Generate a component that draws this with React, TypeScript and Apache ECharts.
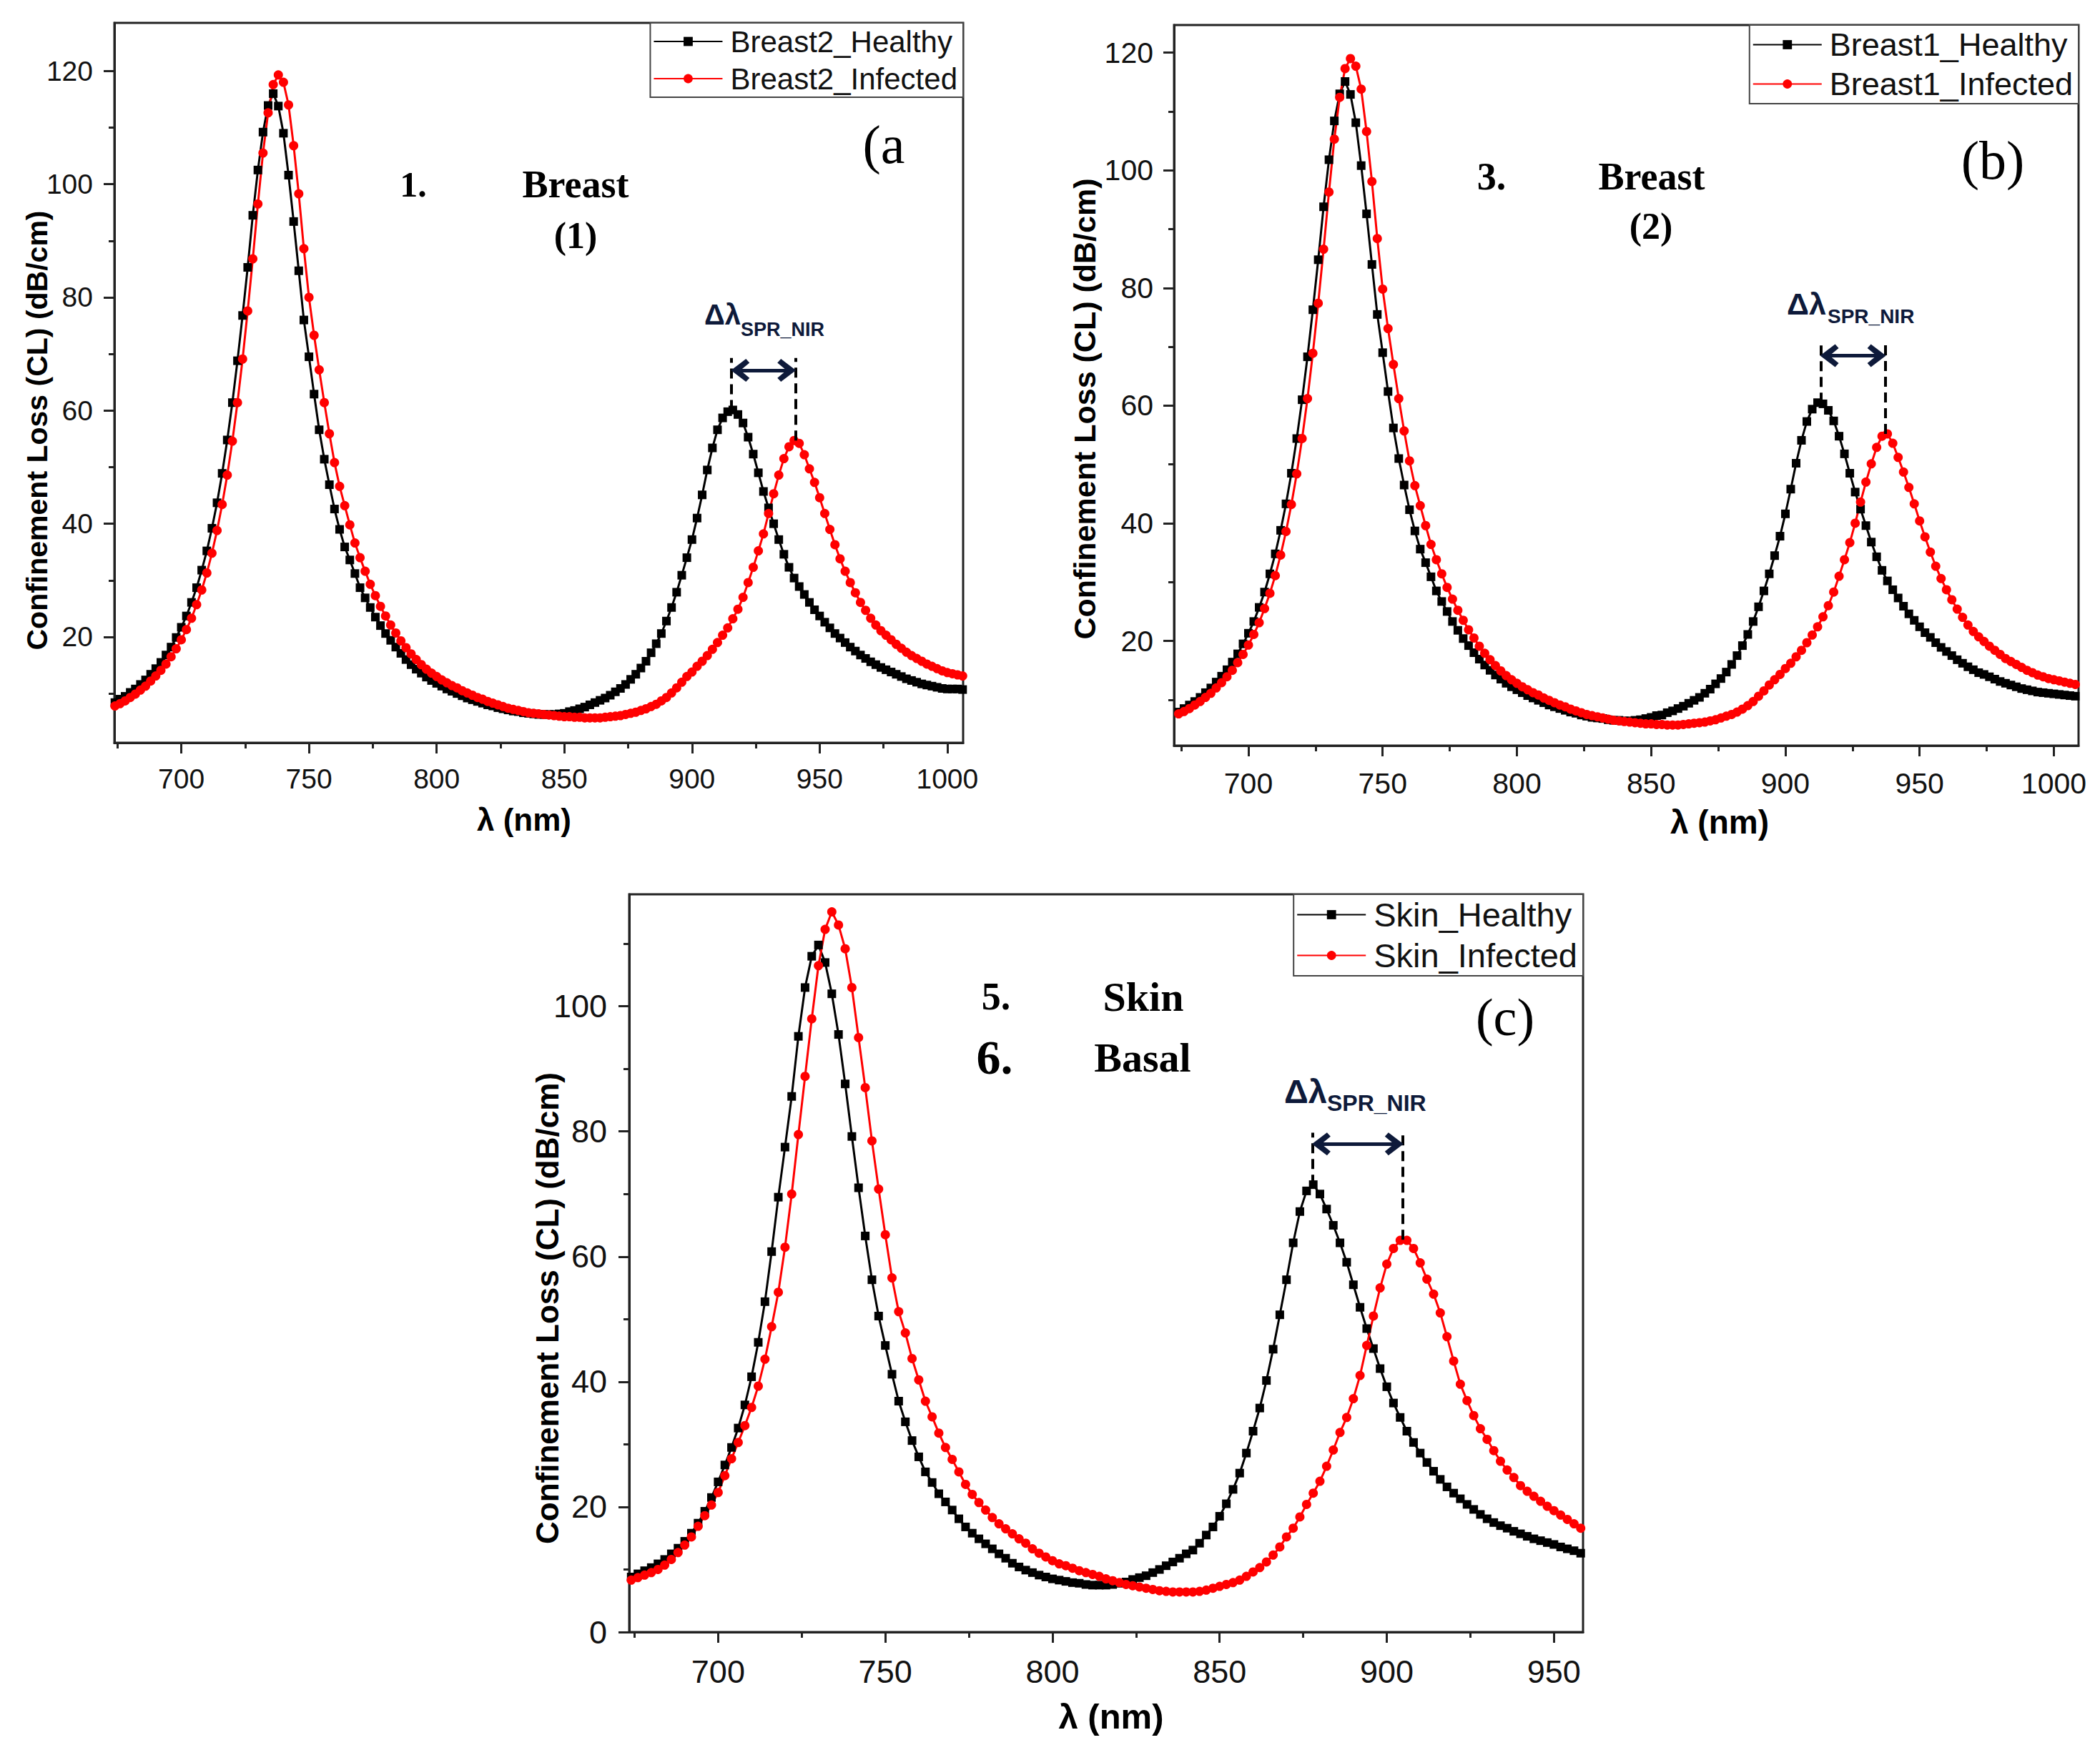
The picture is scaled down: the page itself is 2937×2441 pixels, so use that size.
import { useEffect, useRef } from "react";
import * as echarts from "echarts";

const W = 2937;
const H = 2441;

// wavelength sampling of every curve (nm)
const WL_START = 674;
const WL_STEP = 2;

const SANS = '"Liberation Sans", Arial, sans-serif';
const SERIF = '"Liberation Serif", "Times New Roman", serif';
const NAVY = "#0e1a3a";
const AXIS = "#222";

// ---- panel (a): Breast2, 674..1006 nm ----
const breast2Healthy = [
  8.4, 9.0, 9.5, 10.2, 10.8, 11.6, 12.4, 13.4, 14.4, 15.5,
  16.8, 18.2, 19.9, 21.7, 23.7, 26.1, 28.7, 31.8, 35.2, 39.2,
  43.7, 48.9, 54.8, 61.4, 68.8, 76.8, 85.3, 94.5, 102.5, 109.2,
  113.9, 116.0, 113.8, 109.0, 101.6, 93.4, 84.7, 76.0, 69.5, 62.9,
  56.6, 51.4, 46.9, 42.6, 39.0, 35.9, 33.6, 31.2, 28.7, 26.9,
  25.2, 23.5, 22.0, 20.6, 19.4, 18.2, 17.1, 16.0, 15.1, 14.3,
  13.6, 12.9, 12.3, 11.8, 11.3, 10.8, 10.4, 10.0, 9.6, 9.2,
  8.9, 8.6, 8.3, 8.0, 7.8, 7.5, 7.3, 7.1, 6.9, 6.8,
  6.6, 6.5, 6.4, 6.3, 6.3, 6.3, 6.3, 6.4, 6.5, 6.8,
  7.0, 7.3, 7.6, 8.0, 8.4, 8.8, 9.2, 9.7, 10.3, 10.9,
  11.6, 12.5, 13.4, 14.5, 15.7, 17.2, 18.8, 20.6, 22.8, 25.2,
  27.9, 30.9, 34.0, 37.2, 41.0, 45.1, 49.5, 53.4, 56.6, 58.7,
  59.8, 60.1, 59.3, 57.8, 55.3, 52.3, 49.0, 45.7, 42.8, 40.0,
  37.2, 34.6, 32.3, 30.4, 28.9, 27.5, 26.1, 24.8, 23.7, 22.6,
  21.6, 20.6, 19.8, 19.0, 18.2, 17.5, 16.8, 16.2, 15.6, 15.1,
  14.6, 14.2, 13.8, 13.4, 13.0, 12.6, 12.3, 12.0, 11.7, 11.5,
  11.3, 11.1, 10.9, 10.8, 10.8, 10.8, 10.7,
];
const breast2Infected = [
  7.8, 8.2, 8.7, 9.3, 9.9, 10.6, 11.3, 12.2, 13.1, 14.1,
  15.2, 16.5, 17.9, 19.5, 21.3, 23.3, 25.7, 28.3, 31.3, 34.8,
  38.8, 43.4, 48.6, 54.6, 61.4, 69.1, 77.6, 86.8, 96.5, 105.5,
  112.6, 117.6, 119.3, 118.0, 114.0, 106.8, 98.3, 88.6, 80.0, 73.3,
  67.2, 61.4, 55.9, 50.8, 46.6, 43.2, 39.8, 36.6, 34.0, 31.6,
  29.3, 27.3, 25.4, 23.7, 22.1, 20.7, 19.3, 18.1, 17.0, 16.0,
  15.1, 14.3, 13.6, 13.0, 12.4, 11.9, 11.4, 11.0, 10.5, 10.1,
  9.7, 9.3, 9.0, 8.6, 8.3, 8.0, 7.7, 7.4, 7.2, 7.0,
  6.8, 6.6, 6.5, 6.4, 6.3, 6.2, 6.1, 6.0, 5.9, 5.9,
  5.8, 5.8, 5.7, 5.7, 5.7, 5.7, 5.8, 5.9, 6.0, 6.1,
  6.3, 6.5, 6.7, 7.0, 7.3, 7.7, 8.1, 8.7, 9.3, 10.1,
  11.0, 12.0, 13.0, 13.8, 14.8, 15.7, 16.7, 17.8, 19.0, 20.3,
  21.6, 23.2, 24.9, 27.0, 29.6, 32.3, 35.2, 38.2, 41.8, 45.3,
  48.6, 51.5, 53.6, 54.7, 54.2, 52.2, 49.7, 47.3, 44.6, 41.8,
  39.0, 36.3, 33.8, 31.6, 29.6, 27.8, 26.1, 24.7, 23.3, 22.1,
  21.1, 20.3, 19.5, 18.7, 18.0, 17.3, 16.7, 16.2, 15.7, 15.2,
  14.8, 14.4, 14.0, 13.7, 13.5, 13.3, 13.1,
];

// ---- panel (b): Breast1, 674..1008 nm ----
const breast1Healthy = [
  7.9, 8.5, 9.1, 9.7, 10.4, 11.2, 12.0, 13.0, 14.0, 15.1,
  16.4, 17.8, 19.5, 21.3, 23.3, 25.7, 28.3, 31.4, 34.8, 38.8,
  43.3, 48.5, 54.4, 61.0, 68.3, 76.3, 84.8, 93.8, 101.8, 108.4,
  113.0, 115.1, 112.9, 108.1, 100.8, 92.6, 84.0, 75.5, 69.0, 62.4,
  56.2, 51.0, 46.5, 42.3, 38.7, 35.6, 33.3, 30.9, 28.5, 26.7,
  25.0, 23.3, 21.8, 20.4, 19.2, 18.0, 16.9, 15.9, 15.0, 14.2,
  13.5, 12.8, 12.2, 11.7, 11.2, 10.7, 10.3, 9.9, 9.5, 9.1,
  8.8, 8.5, 8.2, 7.9, 7.7, 7.4, 7.2, 7.0, 6.9, 6.8,
  6.6, 6.5, 6.5, 6.4, 6.4, 6.5, 6.6, 6.8, 7.0, 7.3,
  7.4, 7.8, 8.1, 8.5, 8.9, 9.4, 9.9, 10.4, 11.1, 11.8,
  12.7, 13.6, 14.7, 16.0, 17.5, 19.2, 21.1, 23.3, 25.8, 28.5,
  31.4, 34.5, 37.8, 41.6, 45.8, 50.2, 54.1, 57.3, 59.4, 60.5,
  60.3, 59.2, 57.4, 54.8, 51.8, 48.5, 45.3, 42.4, 39.6, 36.8,
  34.3, 32.0, 30.2, 28.7, 27.3, 25.9, 24.6, 23.5, 22.4, 21.4,
  20.6, 19.7, 18.9, 18.2, 17.5, 16.8, 16.2, 15.6, 15.1, 14.6,
  14.3, 13.9, 13.5, 13.1, 12.8, 12.5, 12.2, 11.9, 11.7, 11.5,
  11.3, 11.2, 11.1, 11.0, 10.9, 10.8, 10.7, 10.6,
];
const breast1Infected = [
  7.6, 8.0, 8.5, 9.1, 9.7, 10.4, 11.1, 12.0, 12.9, 13.9,
  15.0, 16.3, 17.7, 19.3, 21.1, 23.1, 25.5, 28.1, 31.1, 34.6,
  38.6, 43.2, 48.4, 54.4, 61.2, 68.9, 77.4, 86.6, 96.3, 105.3,
  112.4, 117.3, 119.0, 117.7, 113.8, 106.6, 98.1, 88.4, 79.8, 73.1,
  67.0, 61.2, 55.7, 50.6, 46.4, 43.0, 39.6, 36.4, 33.8, 31.4,
  29.1, 27.1, 25.2, 23.5, 21.9, 20.5, 19.1, 17.9, 16.8, 15.8,
  14.9, 14.1, 13.4, 12.8, 12.2, 11.7, 11.2, 10.8, 10.3, 9.9,
  9.5, 9.1, 8.8, 8.4, 8.1, 7.8, 7.5, 7.3, 7.1, 6.9,
  6.7, 6.5, 6.4, 6.3, 6.2, 6.1, 6.0, 5.9, 5.9, 5.8,
  5.8, 5.7, 5.7, 5.7, 5.8, 5.9, 6.0, 6.1, 6.2, 6.4,
  6.6, 6.9, 7.2, 7.5, 7.9, 8.4, 9.0, 9.7, 10.6, 11.5,
  12.5, 13.4, 14.3, 15.3, 16.2, 17.3, 18.4, 19.7, 21.0, 22.4,
  24.1, 26.0, 28.3, 31.0, 33.8, 36.7, 40.0, 43.6, 47.0, 50.1,
  52.9, 54.8, 55.2, 53.6, 51.2, 48.7, 46.1, 43.3, 40.4, 37.7,
  35.1, 32.7, 30.6, 28.7, 27.0, 25.4, 24.0, 22.7, 21.6, 20.7,
  19.9, 19.1, 18.4, 17.7, 17.0, 16.5, 16.0, 15.5, 15.0, 14.6,
  14.2, 13.9, 13.6, 13.4, 13.2, 13.0, 12.8, 12.6,
];

// ---- panel (c): Skin, 674..958 nm ----
const skinHealthy = [
  8.8, 9.3, 9.8, 10.3, 10.9, 11.6, 12.5, 13.4, 14.5, 15.8,
  17.4, 19.3, 21.5, 24.0, 26.7, 29.5, 32.6, 36.3, 40.8, 46.3,
  52.8, 60.8, 69.5, 77.5, 85.6, 95.2, 103.0, 108.0, 109.8, 107.0,
  102.0, 95.5, 87.6, 79.2, 71.0, 63.3, 56.3, 50.5, 45.8, 41.2,
  36.9, 33.6, 30.6, 28.0, 25.6, 23.9, 22.1, 20.8, 19.5, 18.1,
  16.8, 15.8, 14.9, 14.1, 13.3, 12.5, 11.8, 11.0, 10.4, 9.9,
  9.5, 9.1, 8.8, 8.5, 8.3, 8.1, 7.9, 7.8, 7.6, 7.5,
  7.5, 7.5, 7.6, 7.8, 8.0, 8.4, 8.7, 9.0, 9.5, 10.0,
  10.6, 11.2, 11.8, 12.5, 13.1, 14.2, 15.5, 16.8, 18.5, 20.5,
  22.8, 25.4, 28.6, 32.1, 35.8, 40.2, 45.2, 50.7, 56.3, 62.2,
  67.2, 70.5, 71.5, 70.0, 67.6, 65.0, 62.2, 59.1, 55.5, 51.9,
  48.5, 45.3, 42.1, 39.2, 36.6, 34.3, 32.1, 30.3, 28.6, 27.1,
  25.7, 24.4, 23.2, 22.2, 21.3, 20.4, 19.6, 18.8, 18.1, 17.5,
  17.0, 16.6, 16.1, 15.7, 15.3, 14.9, 14.6, 14.3, 14.0, 13.6,
  13.3, 13.0, 12.6,
];
const skinInfected = [
  8.3, 8.7, 9.1, 9.5, 10.0, 10.7, 11.6, 12.7, 13.9, 15.2,
  16.9, 18.6, 20.3, 22.3, 25.0, 27.7, 30.3, 33.0, 35.9, 39.3,
  43.6, 48.8, 54.3, 61.5, 70.0, 79.5, 88.8, 98.0, 106.5, 112.3,
  115.1, 113.0, 109.2, 103.0, 95.0, 87.0, 78.5, 70.8, 63.5, 56.6,
  51.2, 47.8, 43.7, 40.3, 36.9, 34.4, 31.8, 29.5, 27.6, 25.6,
  23.6, 22.0, 20.7, 19.5, 18.3, 17.3, 16.5, 15.7, 14.9, 14.2,
  13.3, 12.6, 12.0, 11.4, 10.9, 10.6, 10.2, 9.8, 9.5, 9.2,
  8.9, 8.5, 8.2, 7.9, 7.6, 7.4, 7.2, 7.0, 6.8, 6.6,
  6.5, 6.4, 6.4, 6.4, 6.4, 6.5, 6.7, 7.0, 7.3, 7.6,
  7.9, 8.3, 8.9, 9.6, 10.3, 11.2, 12.3, 13.6, 15.2, 16.6,
  18.4, 20.4, 22.2, 24.1, 26.5, 29.1, 31.9, 34.3, 37.3, 41.0,
  45.8, 50.5, 55.0, 58.8, 61.3, 62.6, 62.6, 61.3, 59.0, 56.4,
  54.0, 51.0, 47.2, 43.3, 39.6, 37.0, 34.6, 32.5, 30.8, 29.0,
  27.3, 25.9, 24.7, 23.4, 22.5, 21.7, 20.9, 20.1, 19.4, 18.7,
  18.0, 17.3, 16.6,
];

// tick values
const xLabelsAB = [700, 750, 800, 850, 900, 950, 1000];
const xMinorAB = [675, 725, 775, 825, 875, 925, 975];
const xLabelsC = [700, 750, 800, 850, 900, 950];
const xMinorC = [675, 725, 775, 825, 875, 925];
const yLabelsAB = [20, 40, 60, 80, 100, 120];
const yLabelsC = [0, 20, 40, 60, 80, 100];
const yMinor = [10, 30, 50, 70, 90, 110];

// resonance peaks marked with the Δλ arrow: [healthy λ, healthy CL, infected λ, infected CL]
const peaksA = [915.5, 60.1, 940.5, 54.7];
const peaksB = [913.2, 60.5, 937.2, 55.2];
const peaksC = [877.8, 71.5, 904.8, 62.7];

const CHEVRON = "path://M5,0 L10,7.6 L8.3,9.4 L5,4.8 L1.7,9.4 L0,7.6 Z";

const toPairs = (vals: number[]) => vals.map((v, i) => [WL_START + i * WL_STEP, v]);
const plain = (v: number) => String(v);

type PanelCfg = {
  grid: { left: number; top: number; width: number; height: number };
  x: [number, number];
  y: [number, number];
  xLabels: number[];
  xMinor: number[];
  yLabels: number[];
  tickFont: number;
  xMargin: number;
  yMargin: number;
  names: [string, string];
  healthy: number[];
  infected: number[];
  legend: { right: number; top: number; fontSize: number };
  peaks: number[];
  dashTop: number;
  arrowY: number;
  inset: number;
};

const panels: PanelCfg[] = [
  {
    grid: { left: 160, top: 32, width: 1187, height: 1007 },
    x: [673.8, 1006.2],
    y: [1.3, 128.5],
    xLabels: xLabelsAB,
    xMinor: xMinorAB,
    yLabels: yLabelsAB,
    tickFont: 39,
    xMargin: 31,
    yMargin: 30,
    names: ["Breast2_Healthy", "Breast2_Infected"],
    healthy: breast2Healthy,
    infected: breast2Infected,
    legend: { right: W - 1347, top: 32, fontSize: 42 },
    peaks: peaksA,
    dashTop: 69.3,
    arrowY: 67.1,
    inset: 3.4,
  },
  {
    grid: { left: 1642, top: 35, width: 1265, height: 1008 },
    x: [672.3, 1009.2],
    y: [2.2, 124.7],
    xLabels: xLabelsAB,
    xMinor: xMinorAB,
    yLabels: yLabelsAB,
    tickFont: 41,
    xMargin: 32,
    yMargin: 29,
    names: ["Breast1_Healthy", "Breast1_Infected"],
    healthy: breast1Healthy,
    infected: breast1Infected,
    legend: { right: W - 2907, top: 35, fontSize: 45 },
    peaks: peaksB,
    dashTop: 70.8,
    arrowY: 68.5,
    inset: 3.2,
  },
  {
    grid: { left: 880, top: 1251, width: 1334, height: 1032 },
    x: [673.4, 958.7],
    y: [0, 117.9],
    xLabels: xLabelsC,
    xMinor: xMinorC,
    yLabels: yLabelsC,
    tickFont: 45,
    xMargin: 33,
    yMargin: 31,
    names: ["Skin_Healthy", "Skin_Infected"],
    healthy: skinHealthy,
    infected: skinInfected,
    legend: { right: W - 2214, top: 1251, fontSize: 47 },
    peaks: peaksC,
    dashTop: 79.8,
    arrowY: 78.0,
    inset: 2.6,
  },
];

const tickLine = { color: AXIS, width: 3 };

function shiftMarks(p: PanelCfg) {
  const [x1, y1, x2, y2] = p.peaks;
  const dashed = { type: [14, 8] as any, color: "#000", width: 4 };
  return {
    silent: true,
    animation: false,
    symbol: ["none", "none"],
    label: { show: false },
    emphasis: { disabled: true },
    data: [
      [{ coord: [x1, y1], lineStyle: dashed }, { coord: [x1, p.dashTop] }],
      [{ coord: [x2, y2], lineStyle: dashed }, { coord: [x2, p.dashTop] }],
      [
        {
          coord: [x1 + p.inset, p.arrowY],
          symbol: CHEVRON,
          symbolSize: [32, 26],
          lineStyle: { type: "solid", color: NAVY, width: 5 },
          itemStyle: { color: NAVY },
        },
        { coord: [x2 - p.inset, p.arrowY], symbol: CHEVRON, symbolSize: [32, 26], itemStyle: { color: NAVY } },
      ],
    ],
  };
}

function text(x: number, y: number, t: string, fontSize: number, opts: any = {}) {
  return {
    type: "text",
    x,
    y,
    rotation: opts.rotation || 0,
    silent: true,
    style: {
      text: t,
      fontSize,
      fontFamily: opts.family || SERIF,
      fontWeight: opts.weight || "normal",
      fill: opts.color || "#000",
      align: opts.align || "center",
      verticalAlign: "middle",
    },
  };
}

export default function App() {
  const ref = useRef<HTMLDivElement>(null);

  useEffect(() => {
    if (!ref.current) return;
    const chart = echarts.init(ref.current, null, { renderer: "svg" });

    const grid: any[] = [];
    const xAxis: any[] = [];
    const yAxis: any[] = [];
    const series: any[] = [];
    const legend: any[] = [];

    panels.forEach((p, i) => {
      grid.push({ ...p.grid, show: true, borderColor: AXIS, borderWidth: 3, containLabel: false });
      xAxis.push(
        {
          type: "value",
          gridIndex: i,
          min: p.x[0],
          max: p.x[1],
          position: "bottom",
          axisLine: { show: true, onZero: false, lineStyle: tickLine },
          axisTick: { show: true, customValues: p.xLabels, length: 15, lineStyle: tickLine },
          axisLabel: {
            customValues: p.xLabels,
            formatter: plain,
            fontSize: p.tickFont,
            fontFamily: SANS,
            color: "#111",
            margin: p.xMargin,
          },
          splitLine: { show: false },
        },
        {
          type: "value",
          gridIndex: i,
          min: p.x[0],
          max: p.x[1],
          position: "bottom",
          axisLine: { show: false, onZero: false },
          axisTick: { show: true, customValues: p.xMinor, length: 8, lineStyle: tickLine },
          axisLabel: { show: false },
          splitLine: { show: false },
        }
      );
      yAxis.push(
        {
          type: "value",
          gridIndex: i,
          min: p.y[0],
          max: p.y[1],
          position: "left",
          axisLine: { show: true, onZero: false, lineStyle: tickLine },
          axisTick: { show: true, customValues: p.yLabels, length: 15, lineStyle: tickLine },
          axisLabel: {
            customValues: p.yLabels,
            formatter: plain,
            fontSize: p.tickFont,
            fontFamily: SANS,
            color: "#111",
            margin: p.yMargin,
          },
          splitLine: { show: false },
        },
        {
          type: "value",
          gridIndex: i,
          min: p.y[0],
          max: p.y[1],
          position: "left",
          axisLine: { show: false, onZero: false },
          axisTick: { show: true, customValues: yMinor, length: 8, lineStyle: tickLine },
          axisLabel: { show: false },
          splitLine: { show: false },
        }
      );
      series.push(
        {
          name: p.names[0],
          type: "line",
          xAxisIndex: 2 * i,
          yAxisIndex: 2 * i,
          data: toPairs(p.healthy),
          symbol: "rect",
          symbolSize: 12,
          color: "#000",
          lineStyle: { color: "#000", width: 3 },
          itemStyle: { color: "#000" },
          markLine: shiftMarks(p),
        },
        {
          name: p.names[1],
          type: "line",
          xAxisIndex: 2 * i,
          yAxisIndex: 2 * i,
          data: toPairs(p.infected),
          symbol: "circle",
          symbolSize: 13,
          color: "#ff0000",
          lineStyle: { color: "#ff0000", width: 3 },
          itemStyle: { color: "#ff0000" },
        }
      );
      legend.push({
        data: p.names,
        orient: "vertical",
        right: p.legend.right,
        top: p.legend.top,
        itemWidth: 96,
        itemHeight: 16,
        itemGap: 10,
        padding: [5, 8, 5, 4],
        borderColor: "#444",
        borderWidth: 2,
        backgroundColor: "#fff",
        selectedMode: false,
        textStyle: { fontFamily: SANS, fontSize: p.legend.fontSize, color: "#111", padding: [0, 0, 0, 6] },
      });
    });

    const graphics: any[] = [
      // axis titles
      text(52, 602, "Confinement Loss (CL) (dB/cm)", 41, { family: SANS, weight: "bold", rotation: Math.PI / 2 }),
      text(733, 1146, "λ (nm)", 44, { family: SANS, weight: "bold" }),
      text(1517, 572, "Confinement Loss (CL) (dB/cm)", 43, { family: SANS, weight: "bold", rotation: Math.PI / 2 }),
      text(2405, 1150, "λ (nm)", 46, { family: SANS, weight: "bold" }),
      text(765, 1830, "Confinement Loss (CL) (dB/cm)", 44, { family: SANS, weight: "bold", rotation: Math.PI / 2 }),
      text(1554, 2401, "λ (nm)", 49, { family: SANS, weight: "bold" }),
      // panel (a) notes
      text(578, 258, "1.", 50, { weight: "bold" }),
      text(805, 258, "Breast", 54, { weight: "bold" }),
      text(805, 329, "(1)", 52, { weight: "bold" }),
      text(1236, 202, "(a", 76),
      text(985, 440, "Δλ", 40, { family: SANS, weight: "bold", color: NAVY, align: "left" }),
      text(1036, 461, "SPR_NIR", 27, { family: SANS, weight: "bold", color: NAVY, align: "left" }),
      // panel (b) notes
      text(2086, 247, "3.", 54, { weight: "bold" }),
      text(2310, 247, "Breast", 54, { weight: "bold" }),
      text(2309, 316, "(2)", 52, { weight: "bold" }),
      text(2787, 224, "(b)", 76),
      text(2499, 425, "Δλ", 43, { family: SANS, weight: "bold", color: NAVY, align: "left" }),
      text(2556, 442, "SPR_NIR", 28, { family: SANS, weight: "bold", color: NAVY, align: "left" }),
      // panel (c) notes
      text(1393, 1394, "5.", 54, { weight: "bold" }),
      text(1599, 1394, "Skin", 58, { weight: "bold" }),
      text(1391, 1479, "6.", 68, { weight: "bold" }),
      text(1598, 1479, "Basal", 58, { weight: "bold" }),
      text(2105, 1423, "(c)", 74),
      text(1796, 1526, "Δλ", 47, { family: SANS, weight: "bold", color: NAVY, align: "left" }),
      text(1856, 1543, "SPR_NIR", 32, { family: SANS, weight: "bold", color: NAVY, align: "left" }),
    ];

    chart.setOption({
      animation: false,
      backgroundColor: "#fff",
      textStyle: { fontFamily: SANS },
      grid,
      xAxis,
      yAxis,
      series,
      legend,
      graphic: { elements: graphics },
    });

    return () => {
      chart.dispose();
    };
  }, []);

  return (
    <div
      ref={ref}
      style={{ position: "fixed", left: 0, top: 0, width: W, height: H, background: "#fff" }}
    />
  );
}
